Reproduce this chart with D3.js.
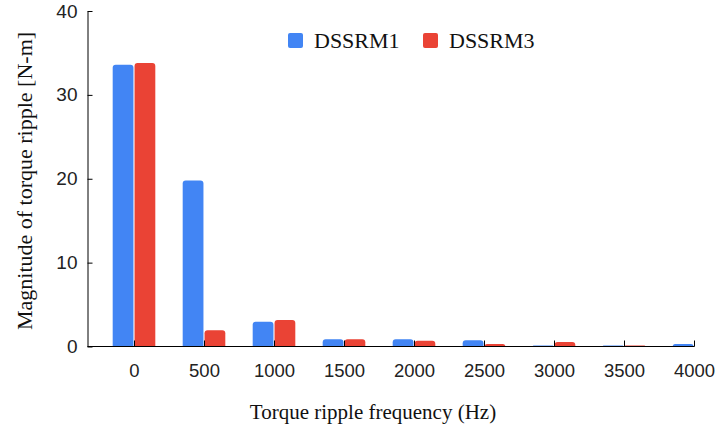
<!DOCTYPE html>
<html>
<head>
<meta charset="utf-8">
<script src="https://cdn.jsdelivr.net/npm/d3@7"></script>
<style>
  body { margin: 0; background: #fff; }
  svg { display: block; }
</style>
</head>
<body>
<svg></svg>
<script>
const categories = ['0', '500', '1000', '1500', '2000', '2500', '3000', '3500', '4000'];
const seriesNames = ['DSSRM1', 'DSSRM3'];
const dssrm1 = [33.6, 19.8, 2.95, 0.85, 0.85, 0.75, 0.12, 0.12, 0.3];
const dssrm3 = [33.8, 1.95, 3.15, 0.85, 0.7, 0.3, 0.55, 0.12, 0];
const yTicks = [0, 10, 20, 30, 40];
const colors = ['#4285F4', '#EA4335'];

const width = 720;
const height = 432;

const svg = d3.select('svg').attr('width', width).attr('height', height);

let rows = categories.map((c, i) => ({cat: c, values: [dssrm1[i], dssrm3[i]]}));

let yScale = d3.scaleLinear().domain([0, 40]).range([346.5, 11]);

let xScale = d3.scaleBand()
    .domain(categories)
    .range([99, 729])
    .paddingInner(0.36)
    .paddingOuter(0.18);

let xInner = d3.scaleBand()
    .domain(seriesNames)
    .range([0, xScale.bandwidth()])
    .padding(0.05);

let xPoint = d3.scalePoint()
    .domain(categories)
    .range([134, 694]);

// bar with rounded top corners
let barPath = (x, y, w, h, r) => {
    r = Math.min(r, h, w / 2);
    return 'M' + x + ',' + (y + h) +
        'V' + (y + r) +
        'Q' + x + ',' + y + ' ' + (x + r) + ',' + y +
        'H' + (x + w - r) +
        'Q' + (x + w) + ',' + y + ' ' + (x + w) + ',' + (y + r) +
        'V' + (y + h) + 'Z';
};

let groups = svg.append('g')
    .selectAll('g')
    .data(rows)
    .enter()
    .append('g')
    .attr('transform', d => 'translate(' + xScale(d.cat) + ',0)');

groups.selectAll('path')
    .data(d => d.values.map((v, j) => ({name: seriesNames[j], value: v, j: j})))
    .enter()
    .filter(d => d.value > 0)
    .append('path')
    .attr('fill', d => colors[d.j])
    .attr('d', d => {
        let y = yScale(d.value);
        return barPath(xInner(d.name), y, xInner.bandwidth(), yScale(0) - y, 3);
    });

// y axis
let yAxis = d3.axisLeft(yScale)
    .tickValues(yTicks)
    .tickSize(-5)
    .tickSizeOuter(0)
    .tickPadding(10);

let yG = svg.append('g')
    .attr('transform', 'translate(87.5,0)')
    .call(yAxis);
yG.selectAll('text')
    .style('font-family', 'Arial, "Liberation Sans", sans-serif')
    .style('font-size', '19px')
    .attr('fill', '#222');
yG.selectAll('line, path').attr('stroke', '#000');

// x axis
let xAxis = d3.axisBottom(xPoint)
    .tickSize(-6)
    .tickSizeOuter(0)
    .tickPadding(17);

let xG = svg.append('g')
    .attr('transform', 'translate(0,346.5)')
    .call(xAxis);
xG.select('.domain').remove();
xG.append('line')
    .attr('x1', 87.5)
    .attr('x2', xPoint(categories[categories.length - 1]) + 0.5)
    .attr('stroke', '#000');
xG.selectAll('text')
    .style('font-family', 'Arial, "Liberation Sans", sans-serif')
    .style('font-size', '18.5px')
    .attr('fill', '#222');
xG.selectAll('line').attr('stroke', '#000');

// axis titles
svg.append('text')
    .attr('x', 373)
    .attr('y', 419)
    .attr('text-anchor', 'middle')
    .style('font-family', '"Times New Roman", "Liberation Serif", serif')
    .style('font-size', '21px')
    .attr('fill', '#111')
    .text('Torque ripple frequency (Hz)');

svg.append('text')
    .attr('transform', 'translate(32,181) rotate(-90)')
    .attr('text-anchor', 'middle')
    .style('font-family', '"Times New Roman", "Liberation Serif", serif')
    .style('font-size', '22px')
    .attr('fill', '#111')
    .text('Magnitude of torque ripple [N-m]');

// legend
let legendX = [288, 423];
let legend = svg.append('g')
    .selectAll('g')
    .data(seriesNames)
    .enter()
    .append('g')
    .attr('transform', (d, i) => 'translate(' + legendX[i] + ',33)');

legend.append('rect')
    .attr('width', 15)
    .attr('height', 15)
    .attr('rx', 2)
    .attr('fill', (d, i) => colors[i]);

legend.append('text')
    .attr('x', 26)
    .attr('y', 15)
    .style('font-family', '"Times New Roman", "Liberation Serif", serif')
    .style('font-size', '22px')
    .attr('fill', '#111')
    .text(d => d);
</script>
</body>
</html>
